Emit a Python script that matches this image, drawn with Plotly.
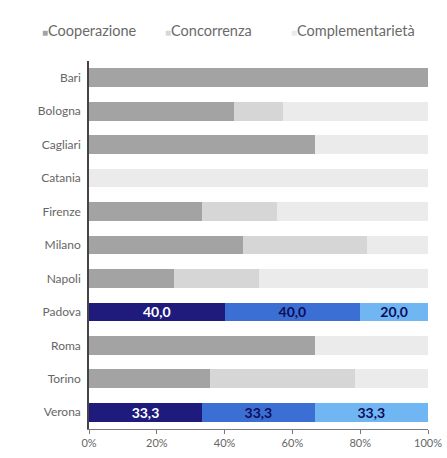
import plotly.graph_objects as go

# Cities and share (%) of each type of relationship
cities = ["Bari", "Bologna", "Cagliari", "Catania", "Firenze", "Milano",
          "Napoli", "Padova", "Roma", "Torino", "Verona"]
cooperazione = [100.0, 42.9, 66.7, 0.0, 33.3, 45.5, 25.0, 40.0, 66.7, 35.7, 33.3]
concorrenza = [0.0, 14.3, 0.0, 0.0, 22.2, 36.4, 25.0, 40.0, 0.0, 42.9, 33.3]
complementarieta = [0.0, 42.9, 33.3, 100.0, 44.4, 18.2, 50.0, 20.0, 33.3, 21.4, 33.3]

# Cities shown in colour with value labels
highlighted = ["Padova", "Verona"]

series = [
    ("Cooperazione", cooperazione, "#a3a3a3", "#1e1b7d", "#ffffff"),
    ("Concorrenza", concorrenza, "#d6d6d6", "#3b6fd3", "#0d0d5a"),
    ("Complementarietà", complementarieta, "#ebebeb", "#70b6f2", "#0d0d5a"),
]

fig = go.Figure()
for name, vals, grey, blue, label_col in series:
    colors = [blue if c in highlighted else grey for c in cities]
    texts = [f"{v:.1f}".replace(".", ",") if c in highlighted else ""
             for c, v in zip(cities, vals)]
    fig.add_trace(go.Bar(
        name=name, y=cities, x=vals, orientation="h",
        marker=dict(color=colors, line=dict(width=0)),
        text=texts, textposition="inside", insidetextanchor="middle",
        textangle=0, constraintext="none",
        textfont=dict(family="Lato", size=14, color=label_col, weight="bold"),
        hoverinfo="skip",
    ))

# Compact legend row above the plot: small square + series name
legend_x = [-0.145, 0.218, 0.59]
for (name, _, grey, _, _), lx in zip(series, legend_x):
    fig.add_annotation(
        xref="paper", yref="paper", x=lx, y=1.084,
        xanchor="left", yanchor="middle", showarrow=False,
        text=f"<span style='font-size:10px;color:{grey}'>■</span>{name}",
        font=dict(family="Lato", size=14.5, color="#6a6a6a"),
    )

fig.update_layout(
    barmode="stack",
    bargap=0.44,
    width=447, height=458,
    margin=dict(l=89, r=19, t=61, b=29, autoexpand=False),
    paper_bgcolor="white", plot_bgcolor="white",
    font=dict(family="Lato", color="#555555"),
    showlegend=False,
)
fig.update_xaxes(
    range=[0, 100], dtick=20, ticksuffix="%",
    showgrid=False, zeroline=False, automargin=False,
    showline=True, linecolor="#7a7a7a", linewidth=1,
    ticks="outside", ticklen=4, tickcolor="#7a7a7a",
    tickfont=dict(size=11, color="#666666"),
)
fig.update_yaxes(
    autorange="reversed", automargin=False,
    showgrid=False, zeroline=False,
    showline=True, linecolor="#444444", linewidth=1.5,
    ticks="", ticklabelstandoff=4,
    tickfont=dict(size=12, color="#666666"),
)

fig.write_html("out.html")
